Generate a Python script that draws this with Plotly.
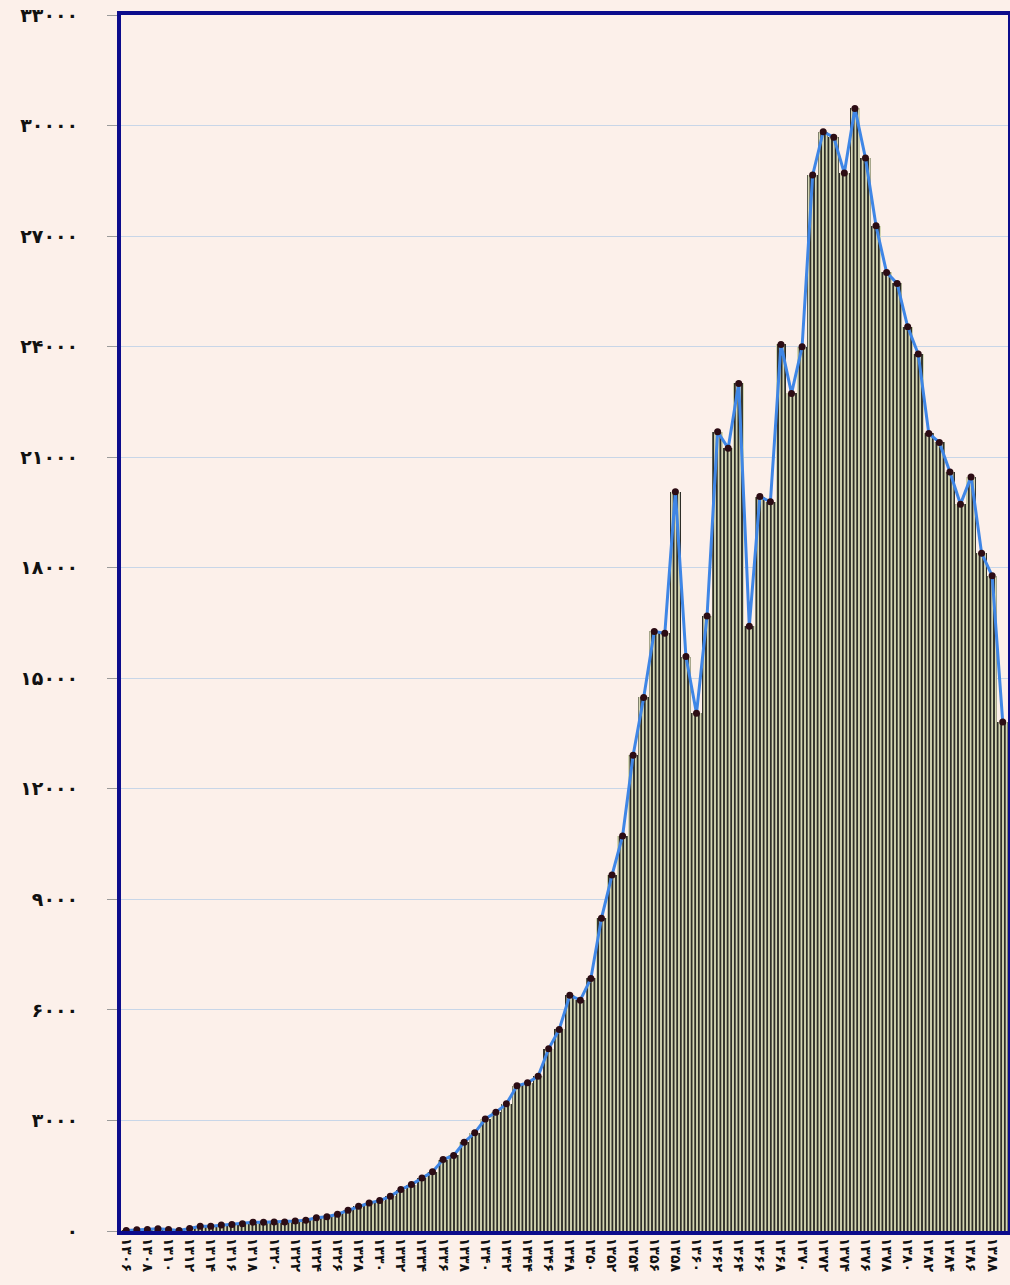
import plotly.graph_objects as go

years = list(range(1306, 1390))
values = [13, 32, 40, 60, 40, 15, 70, 130, 130, 160,
          175, 200, 240, 240, 245, 245, 270, 290, 360, 385,
          455, 560, 670, 760, 825, 940, 1125, 1260, 1435, 1605,
          1940, 2050, 2410, 2665, 3040, 3220, 3450, 3940, 4020, 4200,
          4945, 5470, 6395, 6265, 6855, 8485, 9660, 10720, 12910, 14480,
          16270, 16220, 20060, 15590, 14050, 16690, 21690, 21245, 23000, 16410,
          19930, 19790, 24060, 22730, 23995, 28655, 29835, 29680, 28710, 30465,
          29120, 27280, 26015, 25715, 24540, 23800, 21645, 21400, 20600, 19725,
          20465, 18395, 17780, 13815]
y_ticks = list(range(0, 33001, 3000))

FA = str.maketrans("0123456789", "۰۱۲۳۴۵۶۷۸۹")
def fa(n):
    return str(n).translate(FA)

x_tickvals = years[::2]
x_ticktext = [fa(y) for y in x_tickvals]
y_ticktext = [fa(v) for v in y_ticks]

bg = "#fcf0ea"
border = "#0c0c8c"

fig = go.Figure()
fig.add_trace(go.Bar(
    x=years, y=values,
    marker=dict(color="#e6e9c2", line=dict(width=0),
                pattern=dict(shape="|", fgcolor="#2e2e28", bgcolor="#e6e9c2",
                             size=3.6, solidity=0.55, fillmode="replace")),
    hoverinfo="skip", showlegend=False,
))
fig.add_trace(go.Scatter(
    x=years, y=values, mode="lines+markers",
    line=dict(color="#3f86e6", width=3),
    marker=dict(color="#2c0c14", size=7),
    showlegend=False,
))

fig.update_layout(
    width=1010, height=1285,
    margin=dict(l=121, r=2, t=15, b=54, autoexpand=False),
    paper_bgcolor=bg, plot_bgcolor=bg,
    bargap=0,
    font=dict(family="DejaVu Sans", color="#111111"),
)
fig.update_xaxes(
    range=[years[0] - 0.5, years[-1] + 0.5],
    tickvals=x_tickvals, ticktext=x_ticktext, tickangle=90,
    tickfont=dict(size=14, family="DejaVu Sans", weight="bold"),
    showgrid=False, showline=True, mirror=True,
    linecolor=border, linewidth=4, ticks="", automargin=False,
)
fig.update_yaxes(
    range=[0, 33000],
    tickvals=y_ticks, ticktext=y_ticktext,
    tickfont=dict(size=19, family="DejaVu Sans", weight="bold"),
    showgrid=True, gridcolor="#c8d6e8", gridwidth=1,
    showline=True, mirror=True, linecolor=border, linewidth=4,
    ticks="outside", ticklen=10, tickcolor="#9a9a9a",
    ticklabelstandoff=25, zeroline=False, automargin=False,
)

fig.write_html("out.html",
               config={"displayModeBar": False},
               post_script="document.body.style.margin='0';document.body.style.overflow='hidden';")
